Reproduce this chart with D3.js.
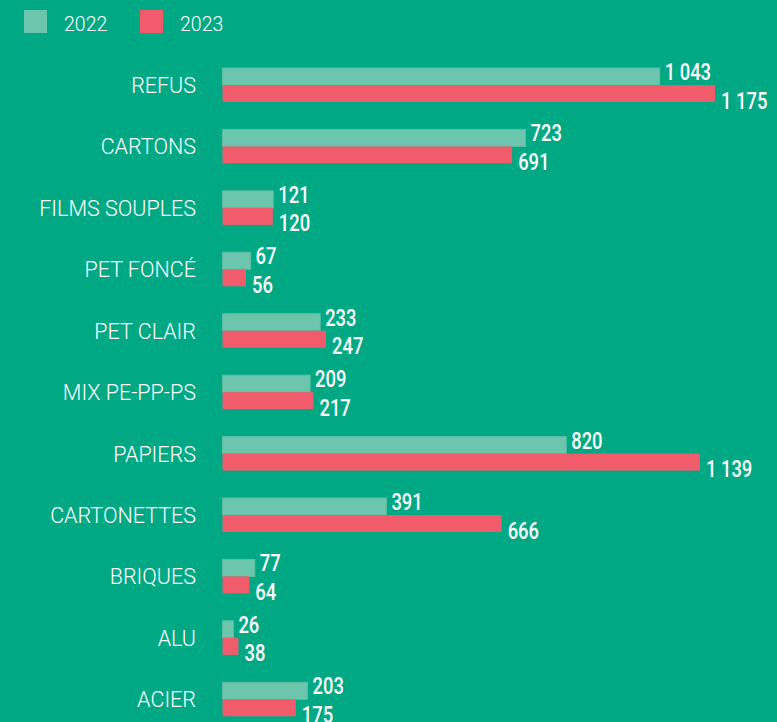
<!DOCTYPE html>
<html><head><meta charset="utf-8">
<script src="https://cdn.jsdelivr.net/npm/d3@7"></script>
<style>
html,body{margin:0;padding:0;background:#00a984;}
svg{display:block;}
</style></head>
<body>
<script>
const categories = ["REFUS","CARTONS","FILMS SOUPLES","PET FONCÉ","PET CLAIR","MIX PE-PP-PS","PAPIERS","CARTONETTES","BRIQUES","ALU","ACIER"];
const values2022 = [1043,723,121,67,233,209,820,391,77,26,203];
const values2023 = [1175,691,120,56,247,217,1139,666,64,38,175];
const seriesNames = ["2022","2023"];
const colors = ["#6cc6ae","#f05c6c"];

const W = 777, H = 722;
const svg = d3.select("body").append("svg").attr("width", W).attr("height", H);
svg.append("rect").attr("width", W).attr("height", H).attr("fill", "#00a984");

const x = d3.scaleLinear().domain([0, 1175]).range([222.5, 715]);
const y = d3.scaleBand().domain(categories).range([54.3, 730]).paddingInner(0.44).paddingOuter(0.22);
const bh = 17;

// legend
const leg = svg.append("g");
seriesNames.forEach((s, i) => {
  const lx = [24, 140][i];
  leg.append("rect").attr("x", lx).attr("y", 10).attr("width", 23).attr("height", 23).attr("fill", colors[i]);
  leg.append("text").attr("x", lx + 40).attr("y", 30.5).attr("fill", "#fff")
    .attr("font-family", "Roboto, sans-serif").attr("font-weight", 300).attr("font-size", 19.5).text(s);
});

const rows = categories.map((c, i) => ({c, v: [values2022[i], values2023[i]]}));
const fmt = v => d3.format(",")(v).replace(/,/g, " ");

const g = svg.selectAll("g.row").data(rows).join("g").attr("class", "row");
g.each(function(d) {
  const gg = d3.select(this);
  const cy = y(d.c) + y.bandwidth() / 2;
  gg.append("text").attr("x", 196).attr("y", cy + 8).attr("text-anchor", "end")
    .attr("fill", "#fff").attr("font-family", "Roboto, sans-serif").attr("font-weight", 300)
    .attr("font-size", 21.5).text(d.c);
  d.v.forEach((v, j) => {
    const top = cy - bh + j * bh;
    gg.append("rect").attr("x", x(0)).attr("y", top).attr("width", x(v) - x(0)).attr("height", bh)
      .attr("fill", colors[j]).attr("stroke", j === 0 ? "#5fbea3" : "none").attr("stroke-width", 1);
    const tx = x(v) + (j === 0 ? 5 : 6), ty = j === 0 ? cy - 5 : cy + 23.5;
    gg.append("text").attr("transform", `translate(${tx},${ty}) scale(0.8,1)`)
      .attr("fill", "#fff").attr("font-family", "Roboto, sans-serif").attr("font-weight", 500)
      .attr("font-size", 23).text(fmt(v));
  });
});
</script>
</body></html>
